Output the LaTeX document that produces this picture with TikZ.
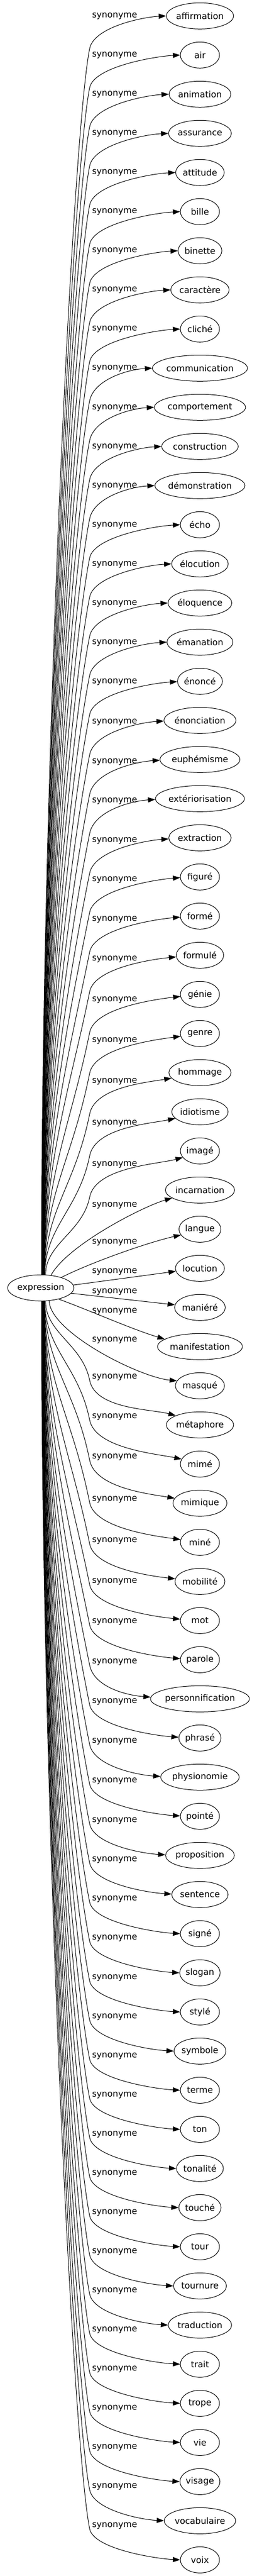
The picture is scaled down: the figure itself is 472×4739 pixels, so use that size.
\documentclass[tikz,border=0pt]{standalone}
\usepackage{fontspec}
\setmainfont{DejaVu Sans}
\usetikzlibrary{arrows.meta,shapes.geometric}
\newlength\wlen
\begin{document}
\begin{tikzpicture}[x=0.75pt,y=-0.75pt,
  word/.style={ellipse,draw,line width=0.75pt,inner sep=0pt,minimum height=36pt,font=\fontsize{12}{14}\selectfont},
  rel/.style={inner sep=0pt,font=\fontsize{12}{14}\selectfont},
  link/.style={line width=0.75pt,-{Triangle[length=10pt,width=7pt]}}]
\useasboundingbox (0,0) rectangle (472,4739);
\settowidth{\wlen}{\fontsize{12}{14}\selectfont expression}
\pgfmathsetmacro\ew{max(54,1.3*(\wlen+15.84))}
\node[word,minimum width=\ew pt] (e) at (75,2369.3) {expression};
\foreach \i/\word/\lo in {0/affirmation/0,1/air/0,2/animation/0,3/assurance/0,4/attitude/0,5/bille/0,6/binette/0,7/caractère/0,8/cliché/0,9/communication/0,10/comportement/1,11/construction/1,12/démonstration/1,13/écho/1,14/élocution/1,15/éloquence/1,16/émanation/1,17/énoncé/1,18/énonciation/3,19/euphémisme/4,20/extériorisation/4,21/extraction/5,22/figuré/5,23/formé/6,24/formulé/7,25/génie/10,26/genre/13,27/hommage/16,28/idiotisme/21,29/imagé/25,30/incarnation/28,31/langue/24,32/locution/6,33/maniéré/-29,34/manifestation/-65,35/masqué/-84,36/métaphore/-88,37/mimé/-87,38/mimique/-85,39/miné/-79,40/mobilité/-75,41/mot/-72,42/parole/-70,43/personnification/-68,44/phrasé/-67,45/physionomie/-66,46/pointé/-65,47/proposition/-64,48/sentence/-64,49/signé/-64,50/slogan/-64,51/stylé/-63,52/symbole/-63,53/terme/-63,54/ton/-63,55/tonalité/-63,56/touché/-63,57/tour/-63,58/tournure/-63,59/traduction/-63,60/trait/-63,61/trope/-63,62/vie/-63,63/visage/-63,64/vocabulaire/-63,65/voix/-63}{
  \settowidth{\wlen}{\fontsize{12}{14}\selectfont \word}
  \pgfmathsetmacro\ew{max(54,1.3*(\wlen+15.84))}
  \pgfmathsetmacro\yt{29.3+72*\i}
  \pgfmathsetmacro\ly{\yt+(\lo)}
  \node[word,minimum width=\ew pt] (n\i) at (368,\yt) {\word};
  \node[rel] (l\i) at (211,\ly) {synonyme};
  \pgfmathtruncatemacro\isup{\i<33 ? 1 : 0}
  \pgfmathtruncatemacro\dd{\i<33 ? 32-\i : \i-33}
  \ifnum\dd>2
    \pgfmathsetmacro\by{\isup==1 ? \ly+60 : \ly+6}
    \pgfmathsetmacro\baseang{\dd==3 ? 70 : 72.6+14.4*min(\dd-4,28)/28}
    \pgfmathtruncatemacro\sang{\isup==1 ? round(\baseang) : round(0-\baseang)}
    \pgfmathsetmacro\syy{\isup==1 ? 2346 : 2392}
    \pgfmathsetmacro\hh{abs(\syy-\by)}
    \pgfmathsetmacro\ca{min(160,0.45*\hh)}
    \pgfmathsetmacro\cay{\isup==1 ? \ca : 0-\ca}
    \pgfmathsetmacro\cax{0-0.2*\ca}
    \pgfmathsetmacro\cfy{\isup==1 ? 0-0.4*\hh : 0.4*\hh}
    \pgfmathsetmacro\mdx{0.13*abs(\by-\yt)}
    \pgfmathsetmacro\mdy{0-0.65*(\by-\yt)}
    \pgfmathsetmacro\dl{12*exp(0-(\dd-3)*0.3)}
    \pgfmathsetmacro\rx{\ew/1.5}
    \pgfmathsetmacro\tpsi{atan(\dl/(\rx*sqrt(1-(\dl/24)^2)))}
    \pgfmathtruncatemacro\tang{\isup==1 ? round(180+\tpsi) : round(180-\tpsi)}
    \pgfmathsetmacro\tdy{\isup==1 ? 45*(0.05+\dl/55) : 0-45*(0.05+\dl/55)}
    \draw[link] (e.\sang) .. controls +(0,\cfy) and +(\cax,\cay) .. (165,\by) .. controls +(\mdx,\mdy) and +(-45,\tdy) .. (n\i.\tang);
  \fi
}
\draw[link] (e.5) -- (n32.187);
\draw[link] (e.27) .. controls +(60,-30) and +(-55,12) .. (n31.197);
\draw[link] (e.51) .. controls +(30,-55) and +(-55,16) .. (n30.196);
\draw[link] (e.-10) -- (n33.174);
\draw[link] (e.-32) .. controls +(60,22) and +(-60,-18) .. (n34.168);
\draw[link] (e.-57) .. controls +(2,58) and +(-70,-7) .. (n35.168);
\end{tikzpicture}
\end{document}
